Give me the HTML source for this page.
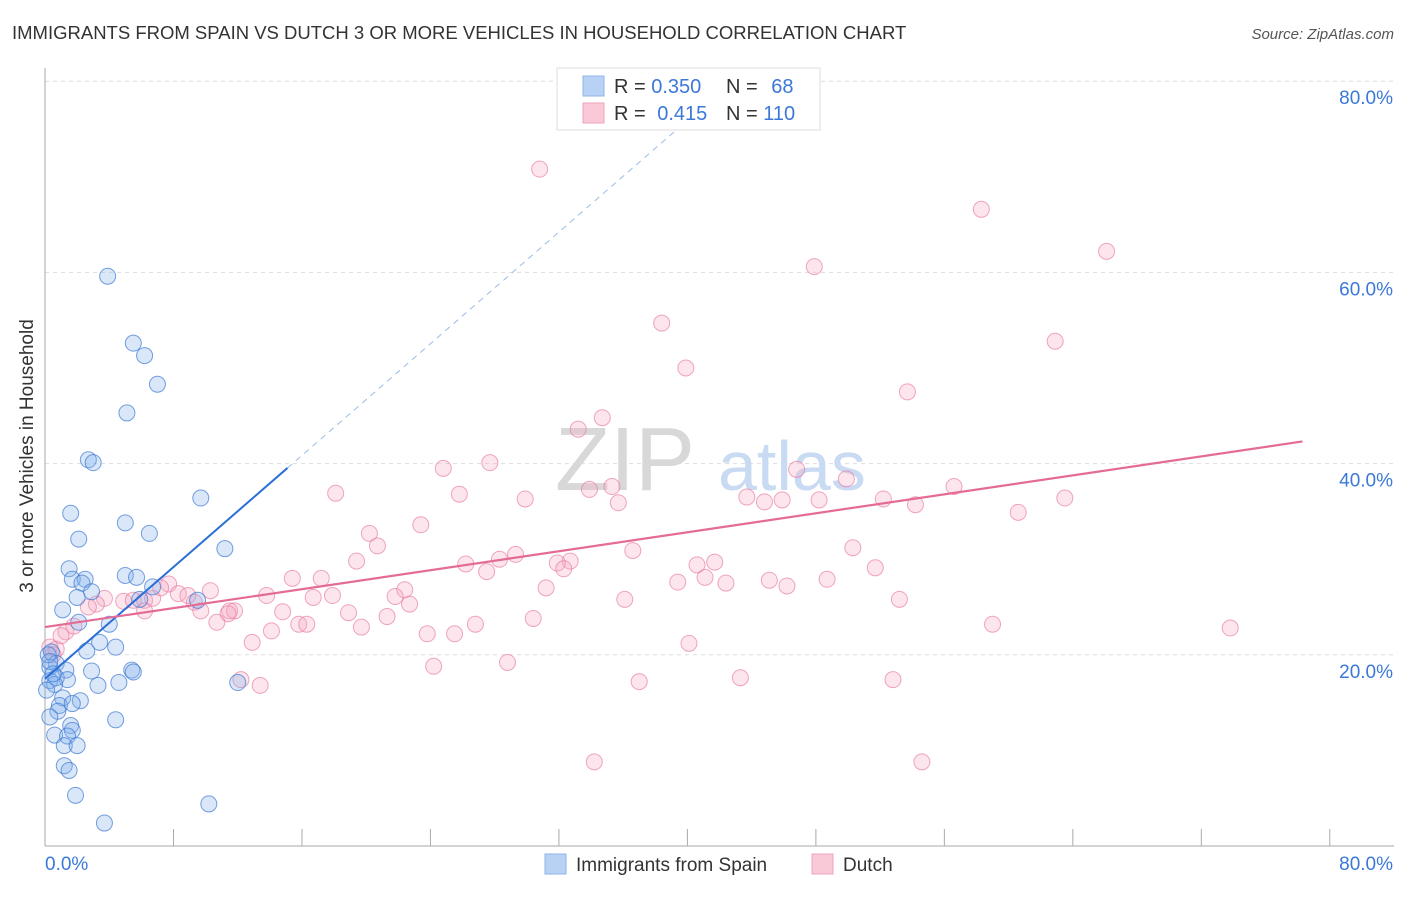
<!DOCTYPE html>
<html><head><meta charset="utf-8">
<style>
body{margin:0;background:#fff;font-family:"Liberation Sans",sans-serif;}
svg text{font-family:"Liberation Sans",sans-serif;}
</style></head>
<body>
<svg id="chart" width="1406" height="892" xmlns="http://www.w3.org/2000/svg">
<text x="12" y="39" font-size="18.5" fill="#333">IMMIGRANTS FROM SPAIN VS DUTCH 3 OR MORE VEHICLES IN HOUSEHOLD CORRELATION CHART</text>
<text x="1394" y="39" font-size="15" fill="#555" text-anchor="end" font-style="italic">Source: ZipAtlas.com</text>
<text x="33" y="456" font-size="19" fill="#333" text-anchor="middle" transform="rotate(-90 33 456)">3 or more Vehicles in Household</text>
<g id="grid"></g>
<g id="axes"></g>
<text x="555" y="490" font-size="90" fill="#d8d8d8" font-family="Liberation Serif">ZIP</text>
<text x="718" y="490" font-size="70" fill="#c9dbf2">atlas</text>
<g id="pts"></g>
<g id="lines"></g>
<g>
<rect x="557" y="68" width="263" height="62" fill="#fff" stroke="#ddd"/>
<rect x="583" y="76" width="21" height="20" fill="#b8d2f5" stroke="#8fb4e8"/>
<rect x="583" y="103" width="21" height="20" fill="#f9c9d8" stroke="#efa3bb"/>
<text x="614" y="93" font-size="20" fill="#333">R = <tspan fill="#3b78d8">0.350</tspan></text>
<text x="726" y="93" font-size="20" fill="#333">N = <tspan fill="#3b78d8" dx="8">68</tspan></text>
<text x="614" y="120" font-size="20" fill="#333">R = <tspan fill="#3b78d8" dx="6">0.415</tspan></text>
<text x="726" y="120" font-size="20" fill="#333">N = <tspan fill="#3b78d8">110</tspan></text>
</g>
<g>
<rect x="545" y="854" width="21" height="20" fill="#b8d2f5" stroke="#8fb4e8"/>
<text x="576" y="871" font-size="19" fill="#333">Immigrants from Spain</text>
<rect x="812" y="854" width="21" height="20" fill="#f9c9d8" stroke="#efa3bb"/>
<text x="843" y="871" font-size="19" fill="#333">Dutch</text>
</g>
</svg>
<script>
const yTicks=[20,40,60,80];
const yTickLabels=["20.0%","40.0%","60.0%","80.0%"];
const xTicks=[0,8,16,24,32,40,48,56,64,72,80];
const blueX=[3.9,5.5,6.2,7.0,5.1,2.7,3.0,9.7,1.6,5.0,6.5,2.1,11.2,1.5,5.0,5.7,1.7,2.5,2.3,6.7,2.9,2.0,5.9,9.5,1.1,2.1,4.0,3.4,4.4,2.6,0.4,0.7,0.3,2.9,1.3,5.4,5.5,0.7,0.3,1.4,0.6,3.3,4.6,12.0,1.1,2.2,0.9,1.7,0.8,0.3,4.4,1.6,1.7,0.6,1.4,1.2,2.0,1.2,1.5,1.9,10.2,3.7,0.2,0.1,0.3,0.5];
const blueY=[59.6,52.6,51.3,48.3,45.3,40.4,40.1,36.4,34.8,33.8,32.7,32.1,31.1,29.0,28.3,28.1,27.9,27.9,27.5,27.1,26.6,26.0,25.8,25.7,24.7,23.4,23.2,21.3,20.8,20.4,20.3,19.1,18.7,18.3,18.4,18.4,18.2,17.6,17.3,17.4,16.9,16.8,17.1,17.1,15.5,15.2,14.7,14.9,14.1,13.5,13.2,12.6,12.1,11.6,11.5,10.5,10.5,8.4,7.9,5.3,4.4,2.4,20.0,16.3,19.3,18.0];
const pinkX=[30.8,58.3,66.1,47.9,38.4,62.9,39.9,53.7,34.7,33.2,27.7,24.8,46.8,49.9,35.3,56.6,33.9,18.1,25.8,43.7,29.9,63.5,45.9,44.8,48.2,52.2,35.7,54.2,60.6,23.4,20.2,20.7,50.3,36.6,29.3,28.3,19.4,32.7,26.2,31.9,40.6,41.7,32.3,27.5,51.7,15.4,17.2,41.1,39.4,42.4,45.1,48.7,46.2,31.2,22.4,7.7,7.2,10.3,21.8,8.3,8.9,13.8,16.7,17.9,36.1,53.2,3.7,4.9,5.5,6.2,6.7,9.3,22.7,3.2,2.7,6.2,9.7,11.5,11.8,14.8,18.9,11.4,21.3,30.4,10.7,15.8,16.3,26.8,59.0,73.8,19.7,14.1,23.8,25.5,1.3,12.9,40.1,0.7,28.8,24.2,12.2,13.4,37.0,43.3,52.8,34.2,54.6,0.3,1.0,1.8,0.5];
const pinkY=[70.8,66.6,62.2,60.6,54.7,52.8,50.0,47.5,44.8,43.6,40.1,39.5,39.4,38.4,37.6,37.6,37.3,36.9,36.8,36.5,36.3,36.4,36.2,36.0,36.2,36.3,35.9,35.7,34.9,33.6,32.7,31.4,31.2,30.9,30.5,30.0,29.8,29.8,29.5,29.6,29.4,29.7,29.0,28.7,29.1,28.0,28.0,28.1,27.6,27.5,27.8,27.9,27.2,27.0,26.8,27.4,27.0,26.7,26.1,26.4,26.2,26.2,26.0,26.2,25.8,25.8,25.9,25.6,25.7,25.7,25.9,25.5,25.3,25.3,25.0,24.6,24.6,24.6,24.6,24.5,24.4,24.3,24.0,23.8,23.4,23.2,23.2,23.2,23.2,22.8,22.9,22.5,22.2,22.2,22.4,21.3,21.2,20.6,19.2,18.8,17.4,16.8,17.2,17.6,17.4,8.8,8.8,20.8,22.0,23.0,20.0];
const blueTrend=[17.5,1.46];
const pinkTrend=[22.9,0.248];
const X=v=>45+v*16.06, Y=v=>846-v*9.56;
const NS="http://www.w3.org/2000/svg";
function mk(tag,attrs,parent){const e=document.createElementNS(NS,tag);for(const k in attrs)e.setAttribute(k,attrs[k]);parent.appendChild(e);return e;}
const grid=document.getElementById('grid'),axes=document.getElementById('axes');
yTicks.forEach((t,i)=>{
 const g=mk('line',{x1:45,x2:1394,y1:Y(t),y2:Y(t),stroke:'#ddd','stroke-dasharray':'4,4'},grid);
 
 
 const tx=mk('text',{x:1393,y:Y(t)+23,'font-size':19,fill:'#3b78d8','text-anchor':'end'},axes);
 tx.textContent=yTickLabels[i];
 
 
});
mk('line',{x1:45,x2:45,y1:68,y2:846,stroke:'#aaa'},axes);
mk('line',{x1:45,x2:1394,y1:846,y2:846,stroke:'#aaa'},axes);
xTicks.forEach(t=>{const l=mk('line',{x1:X(t),x2:X(t),y1:829,y2:846,stroke:'#aaa'},axes);
 
 });
let a=mk('text',{x:45,y:870,'font-size':19,fill:'#3b78d8'},axes);a.textContent='0.0%';


a=mk('text',{x:1393,y:870,'font-size':19,fill:'#3b78d8','text-anchor':'end'},axes);a.textContent='80.0%';


const pts=document.getElementById('pts');
pinkX.forEach((x,i)=>{const c=mk('circle',{cx:X(x),cy:Y(pinkY[i]),r:8,fill:'rgba(246,170,196,0.3)',stroke:'rgba(232,120,160,0.65)','stroke-width':1},pts);
 
 });
blueX.forEach((x,i)=>{const c=mk('circle',{cx:X(x),cy:Y(blueY[i]),r:8,fill:'rgba(130,175,235,0.3)',stroke:'rgba(60,120,210,0.7)','stroke-width':1},pts);
 
 });
const lines=document.getElementById('lines');
let l=mk('line',{x1:X(0),y1:Y(blueTrend[0]),x2:X(15.1),y2:Y(blueTrend[0]+blueTrend[1]*15.1),stroke:'#2a6fd6','stroke-width':2},lines);


const xe=(80-blueTrend[0])/blueTrend[1];
l=mk('line',{x1:X(15.1),y1:Y(blueTrend[0]+blueTrend[1]*15.1),x2:X(xe),y2:Y(80),stroke:'#9bbbe8','stroke-width':1,'stroke-dasharray':'6,5'},lines);


l=mk('line',{x1:X(0),y1:Y(pinkTrend[0]),x2:X(78.3),y2:Y(pinkTrend[0]+pinkTrend[1]*78.3),stroke:'#e56b97','stroke-width':2.2},lines);


</script>
</body></html>
